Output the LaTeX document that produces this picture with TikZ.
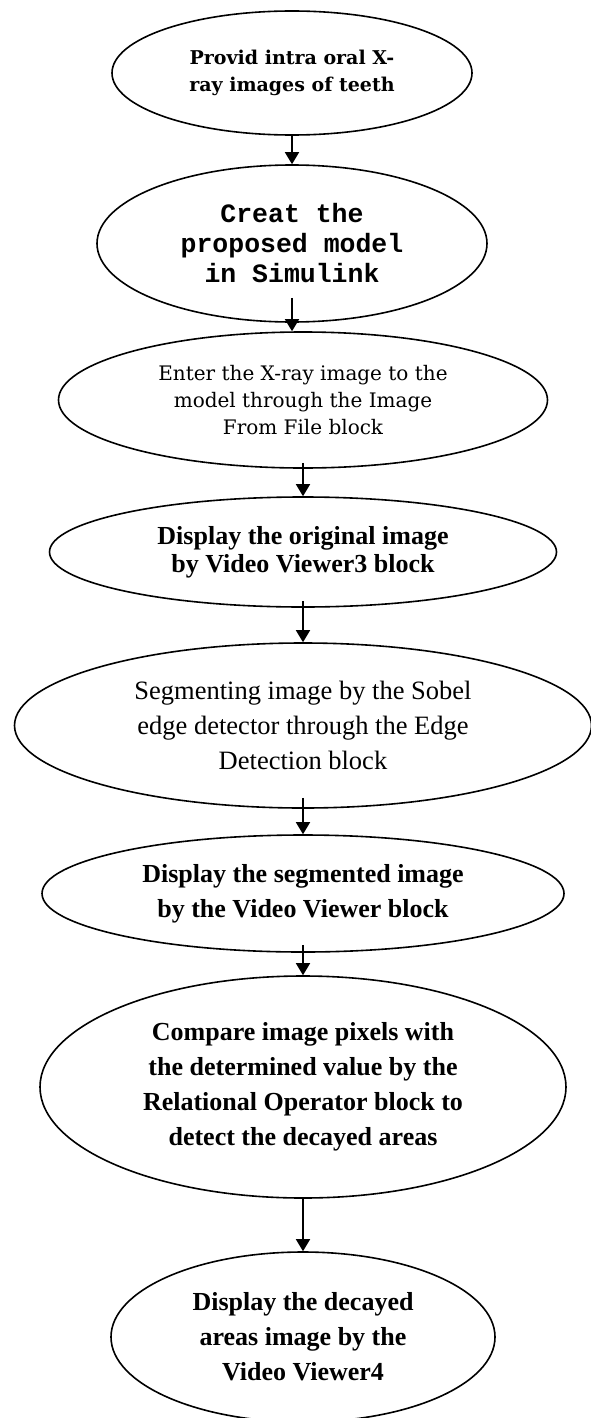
\documentclass[tikz,border=0pt]{standalone}
\usepackage{fontspec}
\setmainfont{Liberation Serif}
\newfontfamily\stepserif{DejaVu Serif}
\newfontfamily\steptt{Liberation Mono}
\usetikzlibrary{shapes.geometric, arrows.meta}

\begin{document}
\begin{tikzpicture}[x=1pt, y=-1pt, every node/.style={inner sep=0pt},
  stage/.style={ellipse, draw, line width=1.6pt, align=center},
  cam/.style={font=\stepserif\fontsize{20}{27}\selectfont},
  camb/.style={font=\stepserif\bfseries\fontsize{19}{27}\selectfont},
  mono/.style={font=\steptt\bfseries\fontsize{26.5}{30}\selectfont},
  tms/.style={font=\fontsize{26.5}{35}\selectfont},
  tmsb/.style={font=\bfseries\fontsize{26}{35}\selectfont},
  tmsbnarrow/.style={font=\bfseries\fontsize{26}{28}\selectfont},
  arrow/.style={-{Triangle[width=14pt,length=12pt]}, line width=1.6pt}]
\useasboundingbox (0,0) rectangle (591,1418);

% the eight steps, top to bottom
\node[stage, camb, minimum width=360pt, minimum height=124pt] (provide) at (292,73)
  {Provid intra oral X-\\ray images of teeth};
\node[stage, mono, minimum width=390pt, minimum height=157pt] (model) at (292,243.5)
  {Creat the\\proposed model\\in Simulink};
\node[stage, cam, minimum width=489pt, minimum height=136pt] (enter) at (303,400)
  {Enter the X-ray image to the\\model through the Image\\From File block};
\node[stage, tmsbnarrow, minimum width=507pt, minimum height=110pt] (original) at (303,552)
  {Display the original image\\by Video Viewer3 block};
\node[stage, tms, minimum width=577pt, minimum height=165pt] (sobel) at (303,725.5)
  {Segmenting image by the Sobel\\edge detector through the Edge\\Detection block};
\node[stage, tmsb, minimum width=522pt, minimum height=117pt] (segmented) at (303,893.5)
  {Display the segmented image\\by the Video Viewer block};
\node[stage, tmsb, minimum width=526pt, minimum height=222pt] (compare) at (303,1087)
  {Compare image pixels with\\the determined value by the\\Relational Operator block to\\detect the decayed areas};
\node[stage, tmsb, minimum width=384pt, minimum height=170pt] (decayed) at (303,1337)
  {Display the decayed\\areas image by the\\Video Viewer4};

% connectors
\draw[arrow] (provide.south) -- (model.north);
\draw[arrow] ([yshift=25pt]model.south) -- (model.south |- enter.north);
\draw[arrow] ([yshift=6pt]enter.south) -- (original.north);
\draw[arrow] ([yshift=7pt]original.south) -- (sobel.north);
\draw[arrow] ([yshift=11pt]sobel.south) -- (segmented.north);
\draw[arrow] ([yshift=8pt]segmented.south) -- (compare.north);
\draw[arrow] (compare.south) -- (decayed.north);
\end{tikzpicture}
\end{document}
